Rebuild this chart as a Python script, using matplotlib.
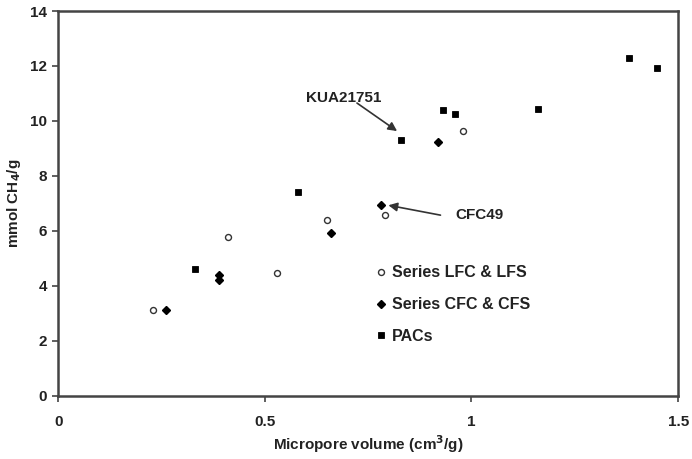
import matplotlib
matplotlib.use("Agg")
import matplotlib.pyplot as plt

plt.rcParams['font.family'] = ['Liberation Sans', 'DejaVu Sans']
plt.rcParams['font.weight'] = 'bold'

# Series LFC & LFS (open circles)
lfc_x = [0.23, 0.41, 0.53, 0.65, 0.79, 0.98]
lfc_y = [3.10, 5.77, 4.47, 6.40, 6.57, 9.63]
# Series CFC & CFS (filled diamonds)
cfc_x = [0.26, 0.39, 0.39, 0.66, 0.78, 0.92]
cfc_y = [3.10, 4.38, 4.22, 5.93, 6.95, 9.22]
# PACs (filled squares)
pac_x = [0.33, 0.58, 0.83, 0.93, 0.96, 1.16, 1.38, 1.45]
pac_y = [4.60, 7.42, 9.32, 10.39, 10.24, 10.45, 12.30, 11.94]

labels = ["Series LFC & LFS", "Series CFC & CFS", "PACs"]
x_ticks = [0, 0.5, 1, 1.5]
x_ticklabels = ["0", "0.5", "1", "1.5"]
y_ticks = [0, 2, 4, 6, 8, 10, 12, 14]

fig = plt.figure(figsize=(6.92, 4.59), dpi=100)
ax = fig.add_axes([0.084, 0.138, 0.896, 0.838])

txt = '#222222'
ax.plot(lfc_x, lfc_y, linestyle='none', marker='o', ms=4.3, mfc='white',
        mec='#333333', mew=1.0, label=labels[0])
ax.plot(cfc_x, cfc_y, linestyle='none', marker='D', ms=4.0, mfc='black',
        mec='black', label=labels[1])
ax.plot(pac_x, pac_y, linestyle='none', marker='s', ms=4.6, mfc='black',
        mec='black', mew=0.6, label=labels[2])

ax.set_xlim(0, 1.5)
ax.set_ylim(0, 14)
ax.set_xticks(x_ticks)
ax.set_xticklabels(x_ticklabels)
ax.set_yticks(y_ticks)
ax.tick_params(axis='both', direction='out', length=4, width=1.2, color='#444444',
               labelsize=11, labelcolor=txt)
ax.tick_params(axis='x', pad=10)
ax.tick_params(axis='y', pad=4)
for lab in ax.get_xticklabels() + ax.get_yticklabels():
    lab.set_fontweight('bold')

for s in ax.spines.values():
    s.set_linewidth(1.8)
    s.set_color('#444444')

ax.set_xlabel("Micropore volume (cm$^\\mathbf{3}$/g)", fontsize=11, fontweight='bold',
              color=txt)
ax.xaxis.set_label_coords(0.5, -0.097)
ax.set_ylabel("mmol CH$_\\mathbf{4}$/g", fontsize=11, fontweight='bold', color=txt)
ax.yaxis.set_label_coords(-0.057, 0.5)

arrow_kw = dict(arrowstyle='-|>', color='#333333', lw=1.2, mutation_scale=13,
                shrinkA=0, shrinkB=0)
ax.text(0.69, 10.83, "KUA21751", ha='center', va='center', fontsize=11,
        fontweight='bold', color=txt)
ax.annotate("", xy=(0.820, 9.63), xytext=(0.723, 10.65), arrowprops=arrow_kw)
ax.text(1.019, 6.57, "CFC49", ha='center', va='center', fontsize=11,
        fontweight='bold', color=txt)
ax.annotate("", xy=(0.799, 6.93), xytext=(0.925, 6.57), arrowprops=arrow_kw)

leg = ax.legend(loc='upper left', bbox_to_anchor=(0.503, 0.355), frameon=False,
                handlelength=0.6, handletextpad=0.35, labelspacing=1.05,
                prop={'weight': 'bold', 'size': 11.5}, borderaxespad=0)
for t in leg.get_texts():
    t.set_color(txt)

fig.savefig("out.png", dpi=100)
